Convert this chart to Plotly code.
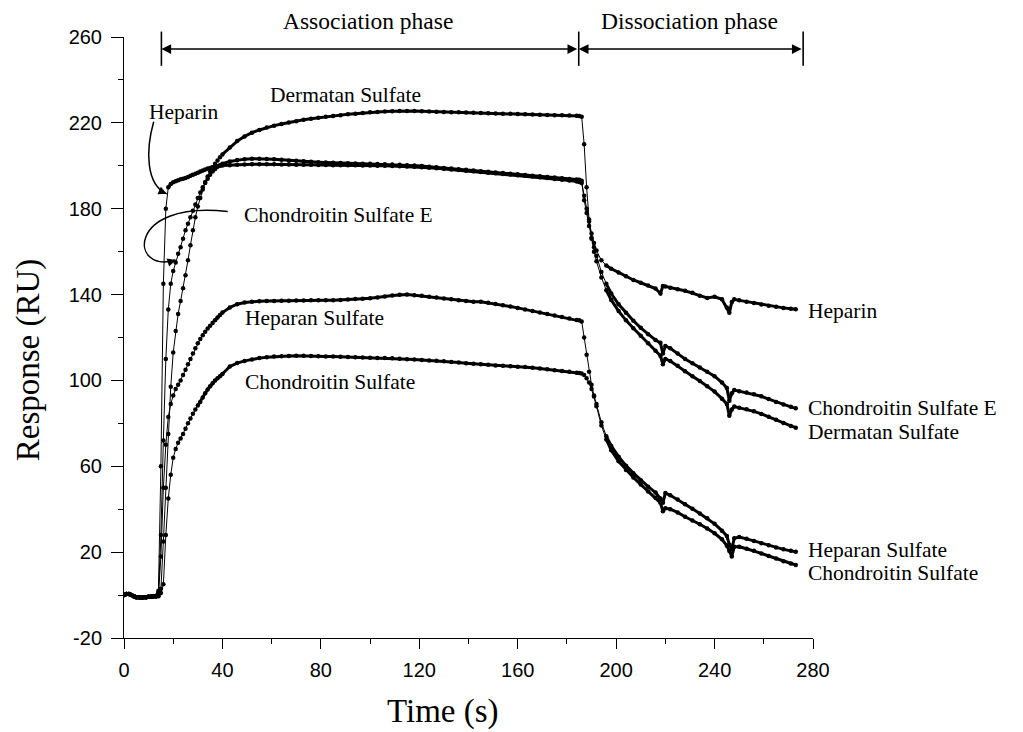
import plotly.graph_objects as go

# ---------------- data ----------------
TIME_BASE = [0, 1, 2, 3, 4, 5, 6, 7, 8, 9, 10, 11, 12, 13]
TIME_RISE = [14, 15, 16, 17, 18, 19, 20, 21, 22, 23, 24, 25, 26, 27, 28, 29, 30,
             31, 32, 33, 34, 35, 36, 37, 38, 39, 40]
TIME_PLATEAU = [43, 46, 49, 52, 55, 58, 61, 64, 67, 70, 73, 76, 79, 82, 85, 88, 91,
                94, 97, 100, 103, 106, 109, 112, 115, 118, 121, 124, 127, 130, 133,
                136, 139, 142, 145, 148, 151, 154, 157, 160, 163, 166, 169, 172, 175,
                178, 181, 184]
TIME_DECAY = [185, 186, 187, 188, 189, 190, 191, 192, 194, 196, 198, 201, 204, 207,
              210, 213, 216, 218, 219, 220, 222, 225, 228, 231, 234, 237, 240, 243,
              245, 246, 247, 248, 250, 253, 256, 259, 262, 265, 268, 271, 273]

BASELINE = [0, 0.5, 0.5, 0, -0.5, -1, -1, -1.2, -1, -1, -0.8, -0.8, -0.6, -0.5]

HEP_RISE = [2, 60, 145, 180, 190, 191.5, 192.3, 192.8, 193.3, 193.7, 194, 194.3, 194.8,
            195.3, 195.8, 196.3, 196.8, 197.3, 197.8, 198.3, 198.7, 199, 199.3, 199.6,
            199.8, 200, 200.1]
HEP_PLAT = [200.3, 200.5, 200.6, 200.7, 200.7, 200.7, 200.7, 200.6, 200.6, 200.5,
            200.5, 200.5, 200.4, 200.4, 200.3, 200.3, 200.2, 200.2, 200.1, 200.1,
            200, 200, 199.9, 199.8, 199.7, 199.5, 199.3, 199.1, 198.9, 198.6,
            198.3, 198, 197.7, 197.4, 197.1, 196.8, 196.5, 196.2, 195.9, 195.6,
            195.3, 195, 194.7, 194.3, 193.9, 193.5, 193.1, 192.7]
HEP_DECAY = [192.5, 192, 186, 180, 174, 168.5, 164, 160.5, 156, 153.5, 152,
             150.3, 148.5, 146.8, 145.5, 144.2, 142.8, 140.5, 144, 143.8,
             143.2, 142.5, 141.8, 140.8, 139.5, 138.4, 139, 137.8,
             134, 131.5, 136.5, 137.8, 137.3, 136.7, 136.1, 135.4, 134.8, 134.3,
             133.8, 133.4, 133.2]

CSE_RISE = [1, 28, 72, 110, 133, 145, 151, 155, 159, 162, 166, 170, 173, 176, 179,
            182, 185, 187.5, 190, 192, 194, 195.8, 197.3, 198.5, 199.5, 200.3, 201]
CSE_PLAT = [202, 202.7, 203.1, 203.3, 203.3, 203.2, 203, 202.8, 202.5, 202.3,
            202.1, 201.9, 201.7, 201.5, 201.4, 201.3, 201.2, 201.1, 201, 200.9,
            200.8, 200.7, 200.6, 200.5, 200.3, 200.1, 199.9, 199.6, 199.3, 199,
            198.7, 198.4, 198.1, 197.8, 197.5, 197.2, 196.9, 196.6, 196.3, 196,
            195.7, 195.4, 195.1, 194.8, 194.5, 194.2, 193.9, 193.6]
CSE_DECAY = [193.5, 193, 184, 178, 172, 166.5, 162, 158, 150.5, 145, 140.5,
             135.5, 131.5, 127.8, 124.5, 121.5, 118.8, 117.5, 112.5, 116,
             115, 112.5, 110, 108, 106, 104, 102, 99,
             96.5, 90.5, 94, 95.5, 95, 94.4, 93.6, 92.6, 91.3, 90, 88.8, 87.7, 87]

DS_RISE = [0, 3, 25, 50, 75, 97, 113, 123, 131, 137, 143, 149, 156, 163, 170, 176,
           181, 185, 189, 192.5, 195, 197.3, 199.3, 201, 202.5, 204, 205.3]
DS_PLAT = [208.5, 211.5, 213.7, 215.4, 216.7, 217.8, 218.7, 219.5, 220.2, 220.8,
           221.4, 221.9, 222.4, 222.8, 223.2, 223.6, 224, 224.3, 224.6, 224.9,
           225.1, 225.3, 225.4, 225.5, 225.5, 225.5, 225.4, 225.3, 225.2, 225.1,
           225, 224.9, 224.8, 224.7, 224.6, 224.5, 224.4, 224.3, 224.2, 224.1,
           224, 223.9, 223.8, 223.7, 223.6, 223.5, 223.4, 223.3]
DS_DECAY = [223.2, 222.8, 210, 190, 175, 166, 160, 155.5, 148, 142, 137.5,
            132.3, 128, 124.3, 120.8, 117.3, 113.8, 111.5, 107.5, 110,
            109, 106.8, 104.3, 102, 99.7, 97.3, 94.8, 91.5,
            89, 83.5, 86.5, 87.8, 87.3, 86.6, 85.6, 84.4, 83.1, 81.7, 80.2, 78.8, 78]

HS_RISE = [0, 18, 50, 70, 83, 89, 93, 96, 98, 100, 102.5, 105, 107.5, 110, 112.5,
           115, 117.3, 119.3, 121, 122.7, 124.2, 125.5, 126.8, 128, 129.3, 130.5, 131.6]
HS_PLAT = [134, 135.5, 136.3, 136.7, 136.9, 137, 137, 137.1, 137.1, 137.2,
           137.2, 137.3, 137.3, 137.3, 137.4, 137.5, 137.7, 137.9, 138.1, 138.3,
           138.6, 139.1, 139.6, 139.9, 140, 139.7, 139.4, 139, 138.6, 138.2,
           137.8, 137.4, 137, 136.7, 136.7, 136.2, 135.6, 135, 134.4, 133.8,
           133.1, 132.4, 131.7, 131, 130.3, 129.6, 128.9, 128.1]
HS_DECAY = [128, 127.5, 120, 112, 104, 98, 93, 89, 80.5, 74, 69.5,
            64.5, 60.3, 56.8, 53.5, 50.5, 47.8, 45, 43, 47.5,
            46.5, 44.5, 42.3, 40.2, 38, 35.8, 33.2, 30,
            27.5, 23.5, 21.5, 26.5, 27, 26.2, 25.2, 24.2, 23.2, 22.2, 21.3, 20.6, 20.2]

CS_RISE = [-0.5, 1, 5, 28, 45, 56, 64, 68, 71, 73, 75, 77.5, 80, 82.3, 84.5, 86.5,
           88.3, 90, 92, 94, 95.8, 97.3, 98.7, 100, 101, 102, 103]
CS_PLAT = [106.5, 108.1, 109.1, 109.8, 110.4, 110.8, 111.1, 111.3, 111.4, 111.5,
           111.5, 111.4, 111.3, 111.2, 111.1, 111, 110.9, 110.8, 110.7, 110.6,
           110.5, 110.4, 110.3, 110.1, 109.9, 109.7, 109.5, 109.3, 109.2, 108.9,
           108.6, 108.3, 108, 107.8, 107.5, 107.3, 107, 106.8, 106.6, 106.4,
           106.2, 105.9, 105.6, 105.2, 104.8, 104.4, 104, 103.6]
CS_DECAY = [103.5, 103.2, 102.5, 101, 99, 96, 92.5, 88, 79, 72.5, 67.5,
            62.3, 58.3, 54.8, 51.5, 48.3, 45.3, 43, 39, 40.5,
            40, 38.5, 36.5, 34.8, 33, 31, 28.8, 26,
            23, 20.5, 18, 22.5, 22.5, 21.6, 20.6, 19.4, 18.2, 17, 15.8, 14.7, 14]

SERIES = [
    ("Heparin", HEP_RISE, HEP_PLAT, HEP_DECAY, 18),
    ("Chondroitin Sulfate E", CSE_RISE, CSE_PLAT, CSE_DECAY, 36),
    ("Dermatan Sulfate", DS_RISE, DS_PLAT, DS_DECAY, 40),
    ("Heparan Sulfate", HS_RISE, HS_PLAT, HS_DECAY, 37),
    ("Chondroitin Sulfate", CS_RISE, CS_PLAT, CS_DECAY, 30),
]

X_RANGE = [0, 280]
Y_RANGE = [-20, 260]
X_TICKS = [0, 40, 80, 120, 160, 200, 240, 280]
Y_TICKS = [-20, 20, 60, 100, 140, 180, 220, 260]
Y_TICK_LABELS = ["-20", "20", "60", "100", "140", "180", "220", "260"]

PHASE_EDGES = [15.2, 184.8, 276]

# ---------------- figure ----------------
fig = go.Figure()
TIME_ALL = TIME_BASE + TIME_RISE + TIME_PLATEAU + TIME_DECAY

for name, rise, plat, decay, thick_from in SERIES:
    y_all = BASELINE + rise + plat + decay
    fig.add_trace(go.Scatter(
        x=TIME_ALL, y=y_all, mode="lines+markers", name=name,
        line=dict(color="black", width=1),
        marker=dict(color="black", size=4.5, symbol="circle"),
        hoverinfo="x+y+name"))
    xs, ys = [], []
    for t, v in zip(TIME_ALL, y_all):
        if thick_from <= t <= 186 or t >= 196 or t <= 14:
            xs.append(t); ys.append(v)
        else:
            xs.append(None); ys.append(None)
    fig.add_trace(go.Scatter(x=xs, y=ys, mode="lines", connectgaps=False,
                             line=dict(color="black", width=3),
                             hoverinfo="skip", showlegend=False))


def paper(t, y):
    return ((t - X_RANGE[0]) / (X_RANGE[1] - X_RANGE[0]),
            (y - Y_RANGE[0]) / (Y_RANGE[1] - Y_RANGE[0]))


def path(points):
    p = [paper(*pt) for pt in points]
    return "M {:.4f},{:.4f} C {:.4f},{:.4f} {:.4f},{:.4f} {:.4f},{:.4f}".format(
        p[0][0], p[0][1], p[1][0], p[1][1], p[2][0], p[2][1], p[3][0], p[3][1])


shapes = []
for t in PHASE_EDGES:
    px, _ = paper(t, 0)
    shapes.append(dict(type="line", xref="paper", yref="paper", x0=px, x1=px,
                       y0=0.952, y1=1.009, line=dict(color="black", width=1.6),
                       layer="above"))
HEP_CURVE = [(12.07, 220.5), (8.82, 207.44), (8.82, 191.12), (17.35, 186.92)]
CSE_CURVE = [(42.14, 178.67), (0.28, 184.13), (2.32, 149.15), (21.01, 156.15)]
for c in (HEP_CURVE, CSE_CURVE):
    shapes.append(dict(type="path", xref="paper", yref="paper", path=path(c),
                       line=dict(color="black", width=1.5), layer="above"))

serif = "Liberation Serif, Times New Roman, serif"
ann = []
for a, b in ((PHASE_EDGES[0], PHASE_EDGES[1]), (PHASE_EDGES[1], PHASE_EDGES[2])):
    ann.append(dict(x=a, y=254.4, ax=b, ay=254.4, xref="x", yref="y", axref="x",
                    ayref="y", text="", showarrow=True, arrowside="end+start",
                    arrowhead=2, startarrowhead=2, arrowsize=1.3, startarrowsize=1.3,
                    arrowwidth=1.5, arrowcolor="black", standoff=0, startstandoff=0))
ann.append(dict(x=17.35, y=186.92, ax=-7.3, ay=-3.3, xref="x", yref="y", text="",
                showarrow=True, arrowhead=2, arrowsize=1.1, arrowwidth=1.5,
                arrowcolor="black", standoff=0))
ann.append(dict(x=21.01, y=156.15, ax=-7.6, ay=2.5, xref="x", yref="y", text="",
                showarrow=True, arrowhead=2, arrowsize=1.1, arrowwidth=1.5,
                arrowcolor="black", standoff=0))

ann.append(dict(x=99, y=1.026, xref="x", yref="paper", text="Association phase",
                showarrow=False, font=dict(family=serif, size=23.5, color="black"),
                xanchor="center", yanchor="middle"))
ann.append(dict(x=230, y=1.026, xref="x", yref="paper", text="Dissociation phase",
                showarrow=False, font=dict(family=serif, size=23.5, color="black"),
                xanchor="center", yanchor="middle"))

LABELS = [
    ("Dermatan Sulfate", 58.4, 233.1),
    ("Heparin", 9.3, 225.2),
    ("Chondroitin Sulfate E", 47.8, 177.1),
    ("Heparan Sulfate", 48.2, 129.1),
    ("Chondroitin Sulfate", 48.2, 99.3),
    ("Heparin", 277, 132.4),
    ("Chondroitin Sulfate E", 277, 87.2),
    ("Dermatan Sulfate", 277, 76.0),
    ("Heparan Sulfate", 277, 21.0),
    ("Chondroitin Sulfate", 277, 10.3),
]
for txt, t, y in LABELS:
    ann.append(dict(x=t, y=y, xref="x", yref="y", text=txt, showarrow=False,
                    font=dict(family=serif, size=21.5, color="black"),
                    xanchor="left", yanchor="middle"))

ann.append(dict(x=0.463, y=-0.1225, xref="paper", yref="paper", text="Time (s)",
                showarrow=False, font=dict(family=serif, size=33, color="black"),
                xanchor="center", yanchor="middle"))
ann.append(dict(x=-0.139, y=0.4625, xref="paper", yref="paper", text="Response (RU)",
                showarrow=False, textangle=-90,
                font=dict(family=serif, size=33, color="black"),
                xanchor="center", yanchor="middle"))

tickfont = dict(family="Liberation Sans, Arial, sans-serif", size=20, color="black")
fig.update_layout(
    width=1023, height=732,
    margin=dict(l=124, r=210, t=37, b=94),
    paper_bgcolor="white", plot_bgcolor="white",
    showlegend=False,
    shapes=shapes, annotations=ann,
    xaxis=dict(range=X_RANGE, tickmode="array", tickvals=X_TICKS,
               ticks="outside", ticklen=10, tickwidth=1, tickcolor="black",
               showline=True, linecolor="black", linewidth=1,
               showgrid=False, zeroline=False, tickfont=tickfont,
               ticklabelstandoff=4,
               minor=dict(dtick=20, tick0=0, ticks="outside", ticklen=5,
                          tickcolor="black", showgrid=False)),
    yaxis=dict(range=Y_RANGE, tickmode="array", tickvals=Y_TICKS,
               ticktext=Y_TICK_LABELS,
               ticks="outside", ticklen=12, tickwidth=1, tickcolor="black",
               showline=True, linecolor="black", linewidth=1,
               showgrid=False, zeroline=False, tickfont=tickfont,
               ticklabelstandoff=5,
               minor=dict(dtick=20, tick0=0, ticks="outside", ticklen=5,
                          tickcolor="black", showgrid=False)),
)

fig.write_html("out.html", config={"displayModeBar": False},
               post_script="document.body.style.margin='0';"
                           "document.body.style.overflow='hidden';")
